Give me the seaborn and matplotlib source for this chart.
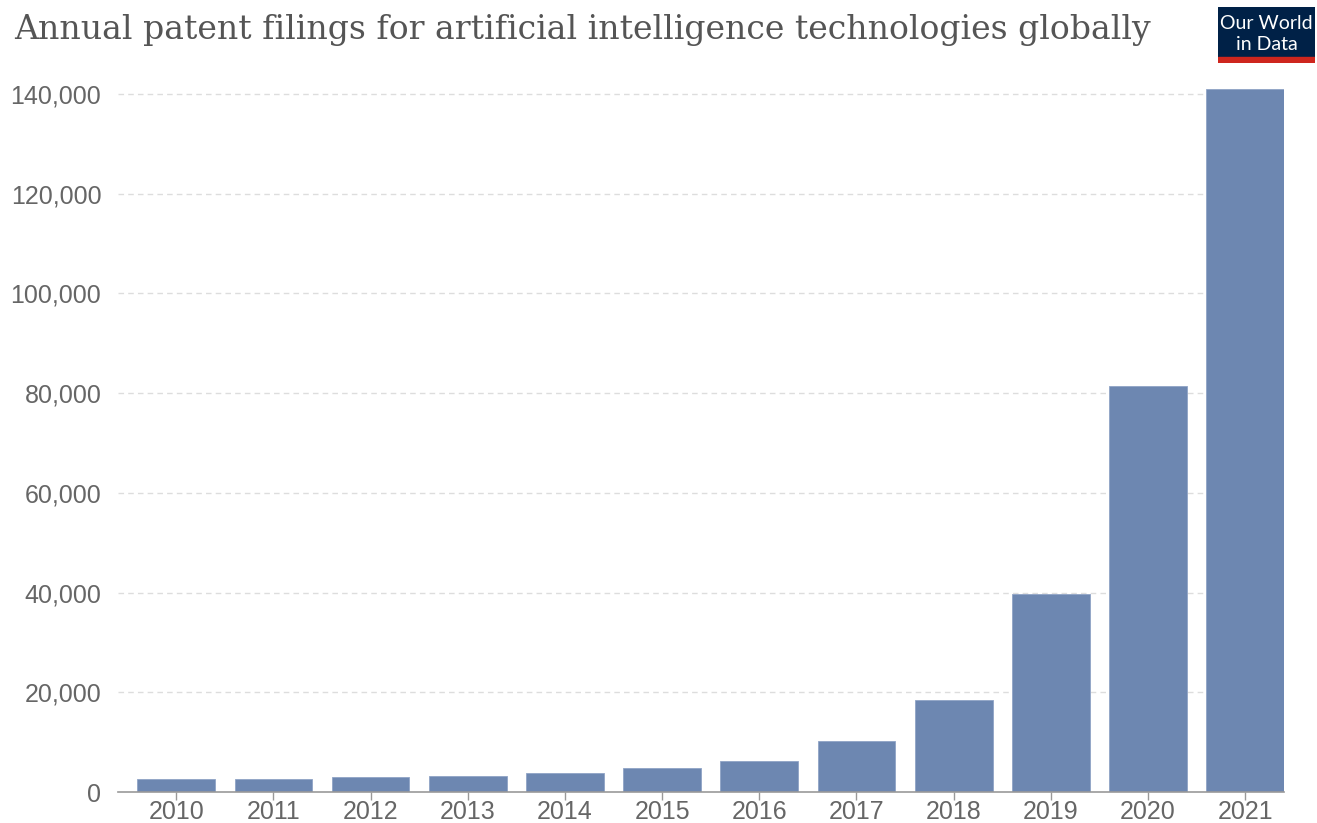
import numpy as np
import pandas as pd
import matplotlib
matplotlib.use("Agg")
import matplotlib.pyplot as plt
import seaborn as sns
from matplotlib.ticker import FuncFormatter
from matplotlib.patches import Rectangle

years = ["2010", "2011", "2012", "2013", "2014", "2015",
         "2016", "2017", "2018", "2019", "2020", "2021"]
filings = [2600, 2550, 3000, 3300, 3750, 4750,
           6200, 10300, 18400, 39700, 81400, 141000]
yticks = [0, 20000, 40000, 60000, 80000, 100000, 120000, 140000]

df = pd.DataFrame({"year": years, "filings": filings})

sns.set_theme(style="white")
plt.rcParams['font.family'] = ['Liberation Sans', 'DejaVu Sans']

fig = plt.figure(figsize=(13.17, 8.23), dpi=100)
ax = fig.add_axes([118 / 1317, 1 - 792 / 823, (1284 - 118) / 1317, (792 - 84) / 823])

sns.barplot(data=df, x="year", y="filings", color="#6d87b1", width=0.8,
            saturation=1, edgecolor="#8fa3c6", linewidth=0.6, ax=ax, zorder=3)

ax.set_ylim(0, 142000)
ax.set_xlim(-0.6, 11.4)
ax.set_yticks(yticks)
ax.yaxis.set_major_formatter(FuncFormatter(lambda v, p: f"{int(v):,}"))
for t in yticks[1:]:
    ax.axhline(t, color="#dddddd", linestyle=(0, (4, 3)), linewidth=1, zorder=1)

for s in ["top", "right", "left"]:
    ax.spines[s].set_visible(False)
ax.spines["bottom"].set_color("#999999")
ax.spines["bottom"].set_linewidth(1.2)
ax.spines["bottom"].set_zorder(4)

ax.tick_params(axis="x", length=6, width=1, color="#999999", labelsize=18,
               labelcolor="#666666", pad=0, bottom=True)
ax.tick_params(axis="y", length=0, labelsize=18, labelcolor="#666666", pad=12)
ax.set_xlabel("")
ax.set_ylabel("")

fig.text(14 / 1317, 1 - 30 / 823, "Annual patent filings for artificial intelligence technologies globally",
         family=["DejaVu Serif"], fontsize=23.9, color="#555555", va="center")

# logo
logo = fig.add_axes([1218 / 1317, 1 - 63 / 823, 97 / 1317, 56 / 823])
logo.set_xlim(0, 1)
logo.set_ylim(0, 1)
logo.axis("off")
logo.add_patch(Rectangle((0, 0.11), 1, 0.89, color="#002147"))
logo.add_patch(Rectangle((0, 0), 1, 0.11, color="#ce261e"))
logo.text(0.5, 0.71, "Our World", color="white", fontsize=14, family="Lato",
          ha="center", va="center")
logo.text(0.5, 0.33, "in Data", color="white", fontsize=14, family="Lato",
          ha="center", va="center")

fig.savefig("out.png", dpi=100)
